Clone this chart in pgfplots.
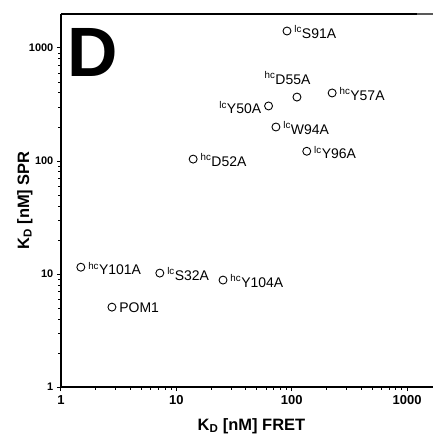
\documentclass[border=0pt]{standalone}
\usepackage{fontspec}
\setmainfont{Liberation Sans}
\usepackage{pgfplots}
\pgfplotsset{compat=1.18}
\begin{document}
\begin{tikzpicture}
\begin{axis}[
  name=ax,
  scale only axis,
  width=373pt, height=374pt,
  xmode=log, ymode=log,
  xmin=1, xmax=1675, ymin=1, ymax=2000,
  axis x line*=bottom, axis y line*=left,
  axis line style={-, line width=1.3pt},
  xtick={1,10,100,1000}, xticklabels={\mbox{\bfseries 1},\mbox{\bfseries 10},\mbox{\bfseries 100},\mbox{\bfseries 1000}},
  ytick={1,10,100,1000}, yticklabels={\mbox{\bfseries 1},\mbox{\bfseries 10},\mbox{\bfseries 100},\mbox{\bfseries 1000}},
  minor xtick={2,3,4,5,6,7,8,9,20,30,40,50,60,70,80,90,200,300,400,500,600,700,800,900},
  minor ytick={2,3,4,5,6,7,8,9,20,30,40,50,60,70,80,90,200,300,400,500,600,700,800,900},
  tick align=outside,
  major tick length=4pt, minor tick length=2.5pt,
  tick style={line width=1pt, black},
  xticklabel style={font=\bfseries\fontsize{13}{13}\selectfont, yshift=-1pt},
  yticklabel style={font=\bfseries\fontsize{11}{11}\selectfont},
  every axis y label/.style={at={(axis description cs:-0.097,0.5)}, anchor=center, rotate=90, font=\bfseries\fontsize{16.5}{16.5}\selectfont},
  every axis x label/.style={at={(axis description cs:0.512,0)}, yshift=-43pt, anchor=base, font=\bfseries\fontsize{16.5}{16.5}\selectfont},
  ylabel={K\textsubscript{D} [nM] SPR},
  xlabel={K\textsubscript{D} [nM] FRET},
  clip=false,
  nodes near coords,
  point meta=explicit symbolic,
  every node near coord/.style={font=\fontsize{14}{16}\selectfont, inner sep=0pt, anchor=west, xshift=7pt, yshift=-1pt},
]
\addplot[only marks, mark=o, mark size=4pt, mark options={line width=0.9pt, black}] table[meta=lab, col sep=comma] {
x,y,lab
91,1413,\textsuperscript{lc}S91A
224,400,\textsuperscript{hc}Y57A
73,200,\textsuperscript{lc}W94A
135,122,\textsuperscript{lc}Y96A
14,104,\textsuperscript{hc}D52A
1.49,11.5,\textsuperscript{hc}Y101A
7.2,10.2,\textsuperscript{lc}S32A
25.4,8.85,\textsuperscript{hc}Y104A
2.77,5.1,POM1
};
\addplot[only marks, mark=o, mark size=4pt, mark options={line width=0.9pt, black},
  every node near coord/.append style={anchor=center, xshift=-16.5pt, yshift=20pt}] table[meta=lab, col sep=comma] {
x,y,lab
111,368,\textsuperscript{hc}D55A
};
\addplot[only marks, mark=o, mark size=4pt, mark options={line width=0.9pt, black},
  every node near coord/.append style={anchor=east, xshift=-14pt, yshift=-0.5pt}] table[meta=lab, col sep=comma] {
x,y,lab
63,307,\textsuperscript{lc}Y50A
};
\node[anchor=north west, inner sep=0pt, font=\bfseries\fontsize{70}{70}\selectfont, xshift=6pt, yshift=-14pt] at (rel axis cs:0,1) {D};
\draw[line width=1.2pt] (rel axis cs:0,1) -- (rel axis cs:0.957,1);
\draw[line width=2.6pt, black!65] (rel axis cs:0.957,1) -- (rel axis cs:1,1);
\coordinate (ll) at (rel axis cs:0,0);
\coordinate (ur) at (rel axis cs:1,1);
\end{axis}
\pgfresetboundingbox
\path[use as bounding box] ([shift={(-61pt,-47pt)}]ll) rectangle ([shift={(0pt,14pt)}]ur);
\end{tikzpicture}
\end{document}
